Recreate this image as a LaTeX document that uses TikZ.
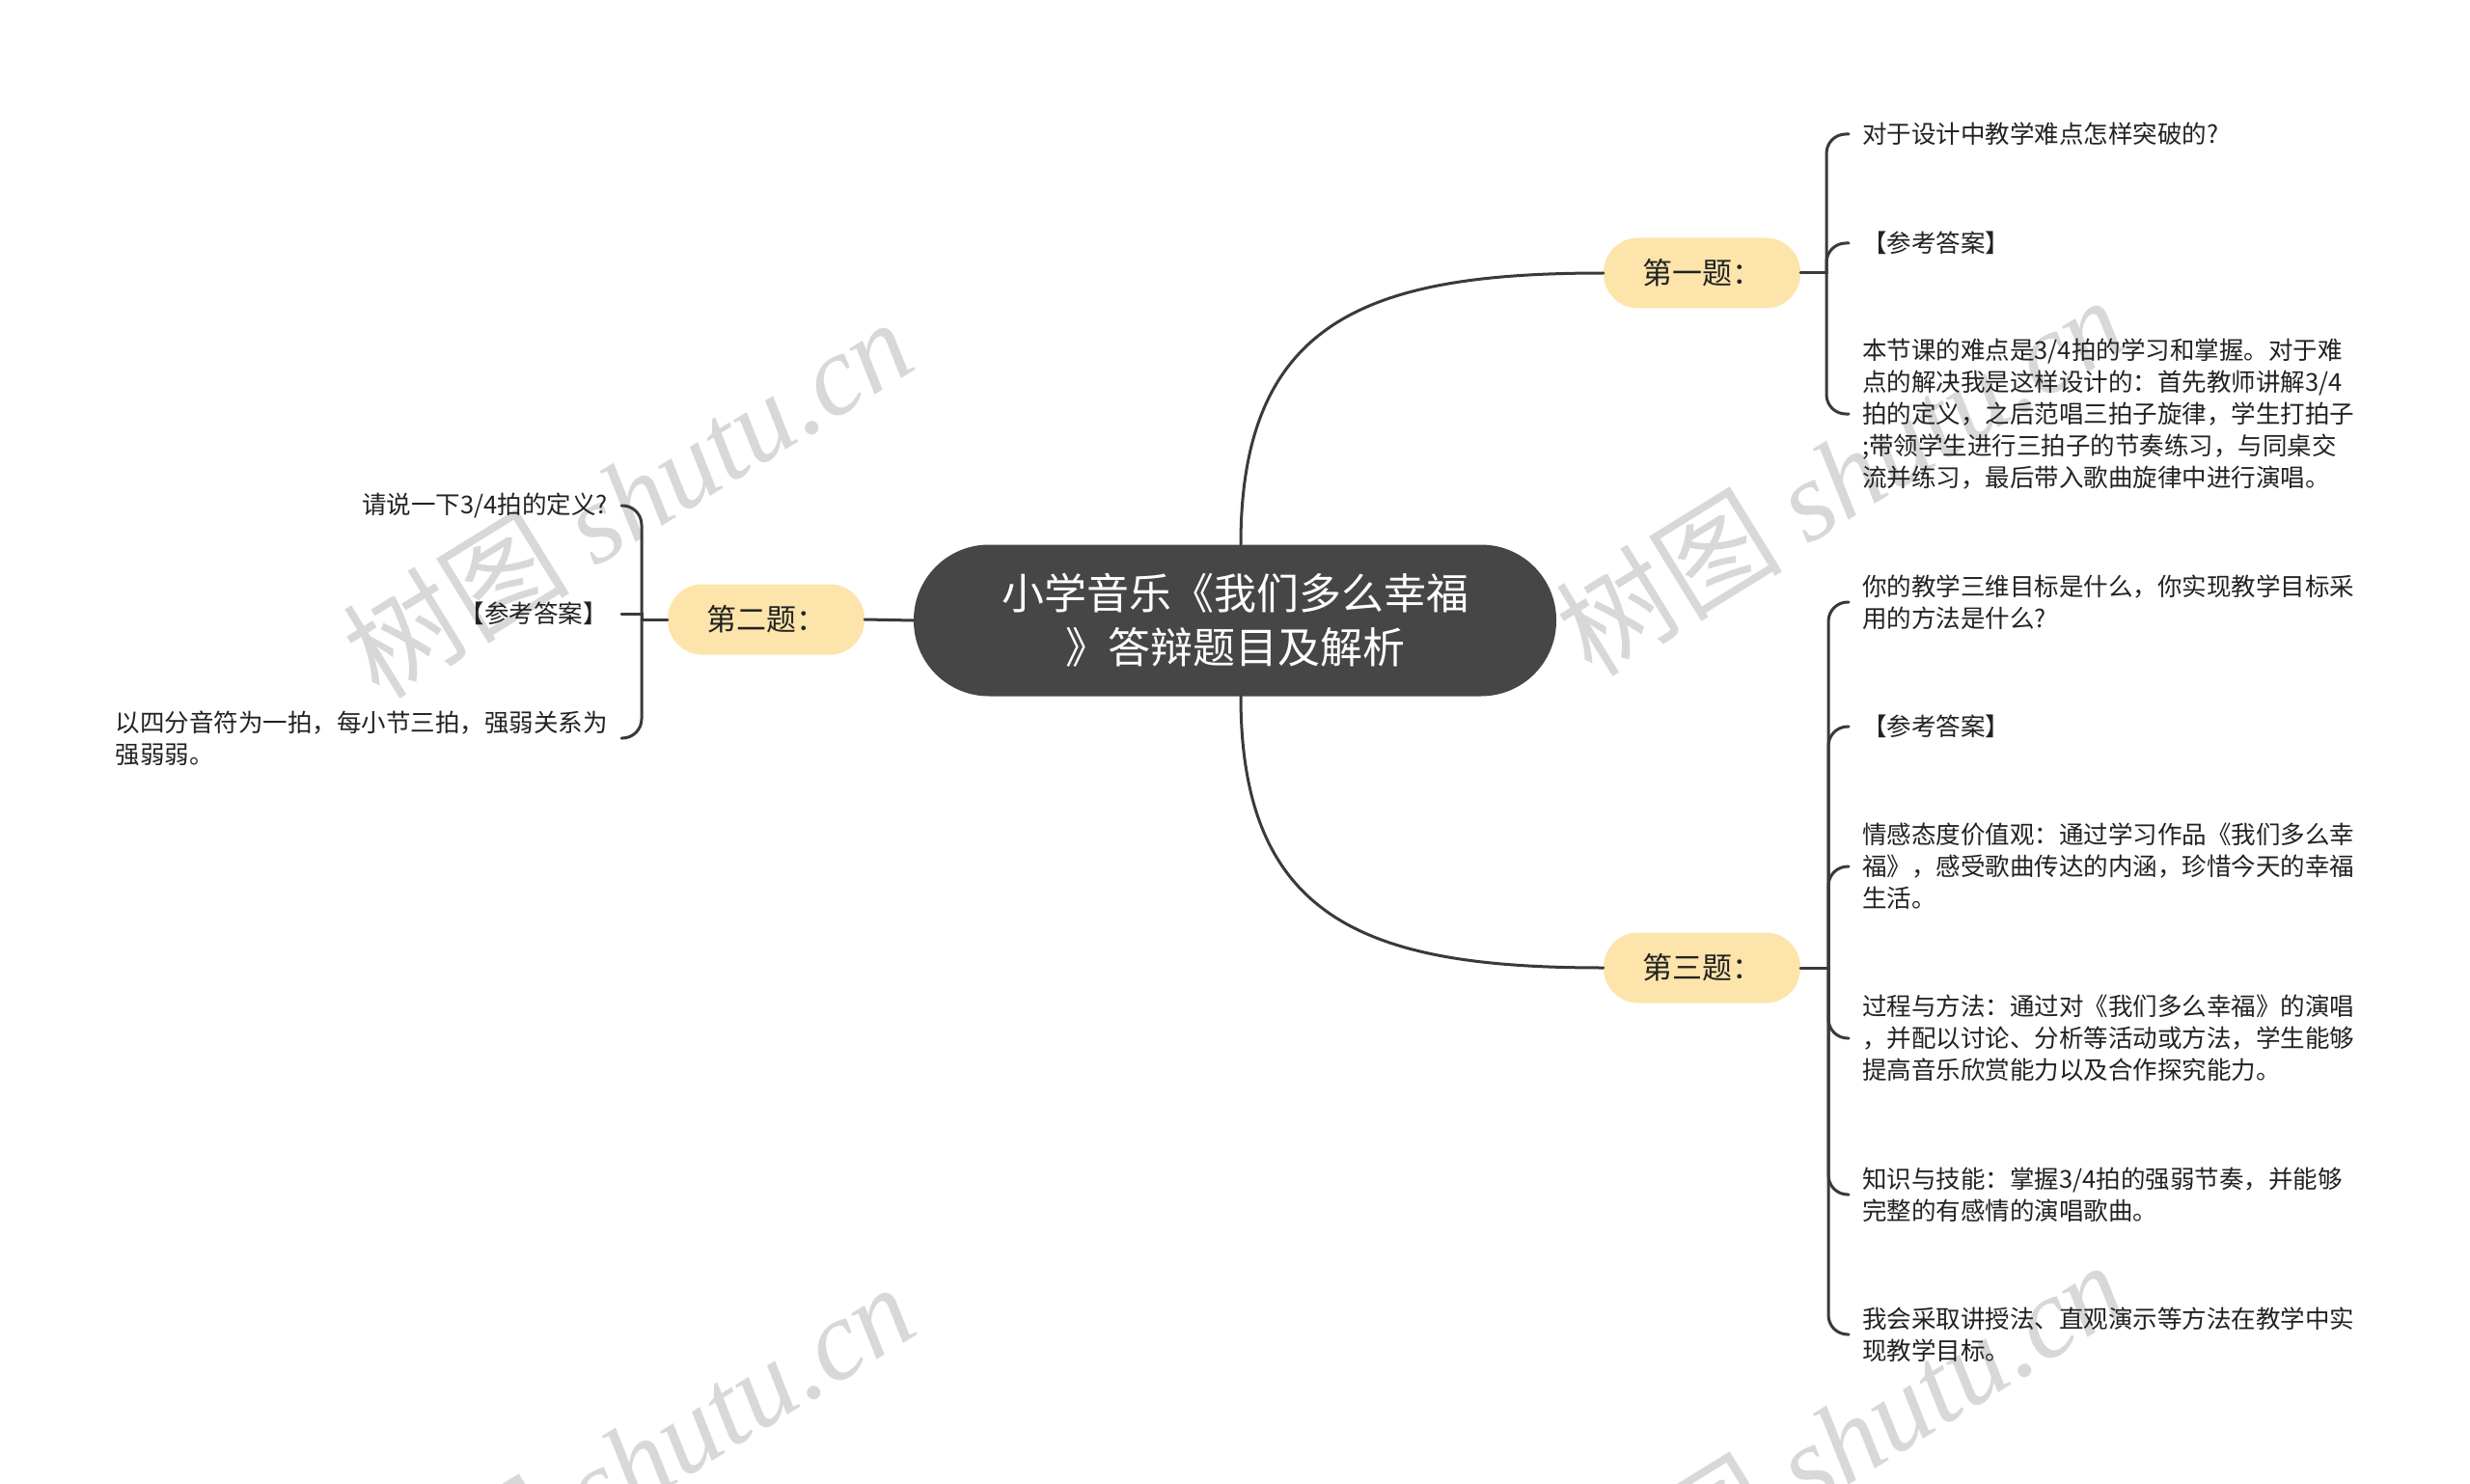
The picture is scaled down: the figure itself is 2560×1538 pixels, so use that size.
\documentclass[tikz,border=0pt]{standalone}
\usepackage{fontspec}
\setmainfont{Noto Sans CJK SC}
\newfontfamily\wmserif{Liberation Serif}
\definecolor{rootc}{HTML}{464646}
\definecolor{topicc}{HTML}{FDE4AB}
\definecolor{linec}{HTML}{3A3A3A}
\definecolor{txtc}{HTML}{222222}
\definecolor{wmc}{HTML}{D8D8D8}
\tikzset{
  rootbox/.style={fill=rootc, text=white, rounded corners=78, minimum width=666, minimum height=157, align=center, inner sep=0pt, font=\fontsize{44}{56}\selectfont},
  topicbox/.style={fill=topicc, text=txtc, rounded corners=36, minimum width=204, minimum height=73, inner sep=0pt, font=\fontsize{31}{36}\selectfont},
  leafR/.style={anchor=west, align=left, text=txtc, inner xsep=14, inner ysep=2, font=\fontsize{25.5}{33}\selectfont},
  leafL/.style={anchor=east, align=left, text=txtc, inner xsep=14, inner ysep=2, font=\fontsize{25.5}{33}\selectfont},
  conn/.style={draw=linec, line width=3, line cap=round},
  brk/.style={conn, rounded corners=20},
  wm/.style={text=wmc, rotate=31.7, inner sep=0pt, font=\fontsize{118}{120}\selectfont},
}
\begin{document}
\begin{tikzpicture}[x=1pt, y=-1pt]
\useasboundingbox (0,0) rectangle (2560,1538);
\fill[white] (0,0) rectangle (2560,1538);
\clip (0,0) rectangle (2560,1538);
% watermarks
\node[wm] (wm1) at (650,515) {树图 {\wmserif\itshape shutu.cn}};
\node[wm] (wm2) at (1907,492) {树图 {\wmserif\itshape shutu.cn}};
\node[wm] (wm3) at (652,1515) {树图 {\wmserif\itshape shutu.cn}};
\node[wm] (wm4) at (1907,1492) {树图 {\wmserif\itshape shutu.cn}};
% main nodes
\node[rootbox] (root) at (1280,643) {小学音乐《我们多么幸福\\》答辩题目及解析};
\node[topicbox] (t1) at (1764,283) {第一题：};
\node[topicbox] (t2) at (794,642) {第二题：};
\node[topicbox] (t3) at (1764,1003) {第三题：};
\draw[conn] ([xshift=6]root.north) .. controls (1286,330) and (1420,283) .. (t1.west);
\draw[conn] ([xshift=6]root.south) .. controls (1286,956) and (1420,1003) .. (t3.west);
\draw[conn] (root.west) -- (t2.east);
% topic 1 leaves
\node[leafR] (l11) at (1916,139) {对于设计中教学难点怎样突破的?};
\node[leafR] (l12) at (1916,252) {【参考答案】};
\node[leafR] (l13) at (1916,429) {本节课的难点是3/4拍的学习和掌握。对于难\\点的解决我是这样设计的：首先教师讲解3/4\\拍的定义，之后范唱三拍子旋律，学生打拍子\\;带领学生进行三拍子的节奏练习，与同桌交\\流并练习，最后带入歌曲旋律中进行演唱。};
\coordinate (b1) at (1893,283);
\draw[conn] (t1.east) -- (b1);
\draw[brk] (b1) |- (l11.west);
\draw[brk] (b1) |- (l12.west);
\draw[brk] (b1) |- (l13.west);
% topic 2 leaves
\node[leafL] (l21) at (644,524) {请说一下3/4拍的定义?};
\node[leafL] (l22) at (644,636) {【参考答案】};
\node[leafL] (l23) at (644,765) {以四分音符为一拍，每小节三拍，强弱关系为\\强弱弱。};
\coordinate (b2) at (665,642);
\draw[conn] (t2.west) -- (b2);
\draw[brk] (b2) |- (l21.east);
\draw[conn] (b2) |- (l22.east);
\draw[brk] (b2) |- (l23.east);
% topic 3 leaves
\node[leafR] (l31) at (1916,624) {你的教学三维目标是什么，你实现教学目标采\\用的方法是什么?};
\node[leafR] (l32) at (1916,753) {【参考答案】};
\node[leafR] (l33) at (1916,898) {情感态度价值观：通过学习作品《我们多么幸\\福》，感受歌曲传达的内涵，珍惜今天的幸福\\生活。};
\node[leafR] (l34) at (1916,1076) {过程与方法：通过对《我们多么幸福》的演唱\\，并配以讨论、分析等活动或方法，学生能够\\提高音乐欣赏能力以及合作探究能力。};
\node[leafR] (l35) at (1916,1238) {知识与技能：掌握3/4拍的强弱节奏，并能够\\完整的有感情的演唱歌曲。};
\node[leafR] (l36) at (1916,1383) {我会采取讲授法、直观演示等方法在教学中实\\现教学目标。};
\coordinate (b3) at (1895,1003);
\draw[conn] (t3.east) -- (b3);
\foreach \n in {l31,l32,l33,l34,l35,l36} \draw[brk] (b3) |- (\n.west);
\end{tikzpicture}
\end{document}
